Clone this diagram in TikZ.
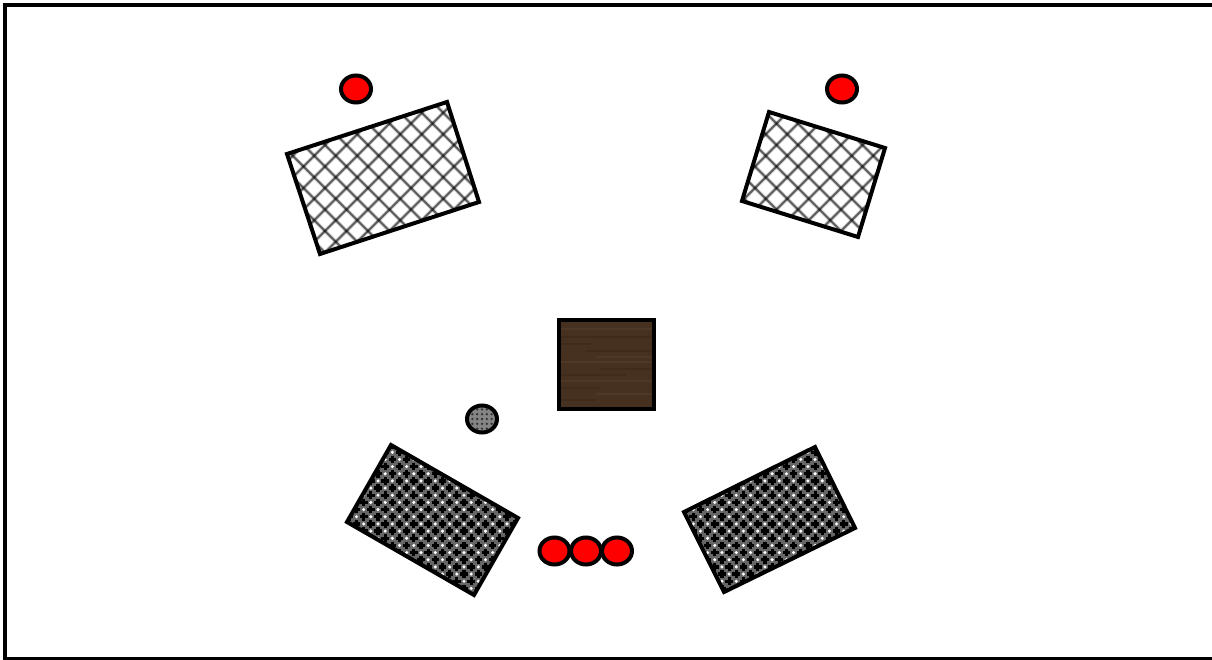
\documentclass[tikz,border=0pt]{standalone}
\usetikzlibrary{shapes.geometric}

\definecolor{woodbase}{HTML}{46301F}
\definecolor{wooddark}{HTML}{3F2B1C}
\definecolor{woodlight}{HTML}{4F3828}

\newcommand{\openmeshfield}{%
    \foreach \kk in {-8,...,30} {
        \pgfmathsetmacro{\cc}{180+21.5*\kk}
        \pgfmathsetmacro{\ss}{556+21.5*\kk}
        \draw[meshhalo] (\cc+90,90) -- (\cc+260,260);
        \draw[meshcore] (\cc+90,90) -- (\cc+260,260);
        \draw[meshhalo] (\ss-90,90) -- (\ss-260,260);
        \draw[meshcore] (\ss-90,90) -- (\ss-260,260);
    }%
}

\newcommand{\densemeshfield}{%
    \foreach \ii in {0,...,73} {
        \foreach \jj in {0,...,22} {
            \pgfmathsetmacro{\px}{342.2+7.165*\ii}
            \pgfmathsetmacro{\py}{445.1+7.165*\jj}
            \pgfmathtruncatemacro{\parity}{mod(\ii+\jj,2)}
            \ifnum\parity=1
                \fill[black] (\px-3.8,\py-1.6) rectangle (\px+3.8,\py+1.6);
                \fill[black] (\px-1.6,\py-3.8) rectangle (\px+1.6,\py+3.8);
            \else
                \fill[white] (\px,\py) circle (1.7);
            \fi
        }
    }%
}

\begin{document}
\begin{tikzpicture}[
    x=1pt,
    y=-1pt,
    outline/.style={
        draw=black,
        line width=4pt,
        inner sep=0pt,
        outer sep=0pt
    },
    meshhalo/.style={
        line width=3.6pt,
        black,
        opacity=0.18
    },
    meshcore/.style={
        line width=1.8pt,
        black,
        opacity=0.55
    },
    openplate/.style={
        outline,
        line join=miter,
        path picture={\openmeshfield}
    },
    denseplate/.style={
        outline,
        line join=miter,
        fill=black!60,
        path picture={\densemeshfield}
    },
    disc/.style={
        outline,
        ellipse,
        minimum width=30pt,
        minimum height=27pt
    },
    reddisc/.style={
        disc,
        fill=red
    },
    woodstreak/.style={
        line width=2.6pt
    }
]

    \useasboundingbox (0,0) rectangle (1212,660);

    \draw[line width=4pt] (5,5) rectangle (1220,658.5);

    \draw[openplate] (287,154) -- (447,102) -- (479,202) -- (320,254) -- cycle;
    \draw[openplate] (769,112) -- (885,148) -- (858,237) -- (742,201) -- cycle;
    \draw[denseplate] (391,445) -- (518,518) -- (474,595) -- (347,522) -- cycle;
    \draw[denseplate] (815,447) -- (855,528) -- (724,592) -- (684,512) -- cycle;

    \node[
        outline,
        rectangle,
        fill=woodbase,
        minimum width=95pt,
        minimum height=89pt,
        path picture={
            \foreach \offs/\from/\upto/\tone in {
                -36/-46/-10/wooddark, -30/-10/46/woodlight, -24/-46/-5/wooddark,
                -17/-46/46/woodlight, -11/-46/20/wooddark, -5/-5/46/wooddark,
                2/-46/46/woodlight, 7/-10/46/woodlight, 13/-20/46/wooddark,
                20/-46/-15/wooddark, 27/-46/46/wooddark, 35/-46/46/woodlight%
            } {
                \draw[woodstreak,draw=\tone]
                    ([xshift=\from pt,yshift=\offs pt]path picture bounding box.center)
                    -- ([xshift=\upto pt,yshift=\offs pt]path picture bounding box.center);
            }
        }
    ] (woodblock) at (606,364) {};

    \node[reddisc] (lampNW) at (356,89) {};
    \node[reddisc] (lampNE) at (842,89) {};

    \node[
        disc,
        fill=black!48,
        path picture={
            \foreach \ii in {-3,...,3} {
                \foreach \jj in {-3,...,3} {
                    \fill[black!80]
                        ([xshift=4.8*\ii pt,yshift=4.8*\jj pt]path picture bounding box.center)
                        circle (1.3);
                }
            }
        }
    ] (knob) at (482,419) {};

    \node[reddisc] (lampA) at (554.5,551) {};
    \node[reddisc] (lampB) at (586,551) {};
    \node[reddisc] (lampC) at (617,551) {};

\end{tikzpicture}
\end{document}
